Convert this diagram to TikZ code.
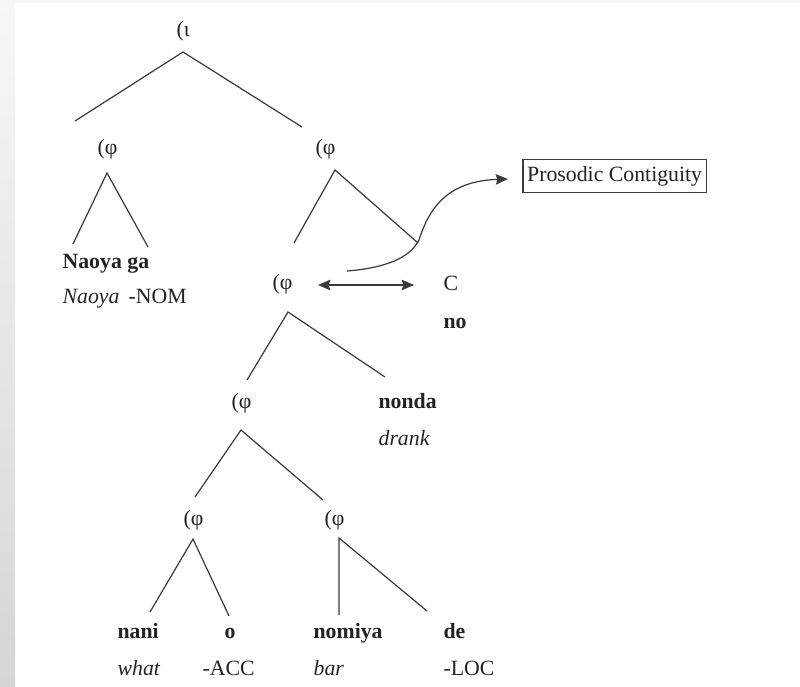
\documentclass[tikz,border=0pt]{standalone}
\usepackage{fontspec}
\setmainfont{Liberation Serif}
\usetikzlibrary{arrows.meta}
\usepackage{xcolor}
\definecolor{ink_gray}{RGB}{35,35,35}
\definecolor{line_gray}{RGB}{60,60,60}
\definecolor{page_light}{RGB}{247,247,247}
\definecolor{page_dark}{RGB}{214,214,214}

\begin{document}
\begin{tikzpicture}[x=0.02cm,y=-0.02cm,>={Stealth[length=7pt,width=6pt,inset=1pt]},line width=0.7pt,
                    every node/.style={inner sep=0pt,text=ink_gray,font=\fontsize{12.4}{15}\selectfont}]
    \tikzstyle{phi}=[anchor=base west]
    \tikzstyle{word}=[anchor=base west,font=\fontsize{12.4}{15}\selectfont\bfseries]
    \tikzstyle{gloss}=[anchor=base west,font=\fontsize{12.4}{15}\selectfont\itshape]
    \tikzstyle{branch}=[draw=line_gray]

    \useasboundingbox (0,0) rectangle (800,686);
    \fill[page_light] (0,0) rectangle (800,3);
    \shade[top color=page_light,bottom color=page_dark] (0,3) rectangle (15,686);

    % prosodic labels
    \node[phi] (iota)   at (176,37)  {(ι};
    \node[phi] (phi_L)  at (97,154)  {(φ};
    \node[phi] (phi_R)  at (315,154) {(φ};
    \node[phi] (phi_M)  at (272,289) {(φ};
    \node[phi] (phi_V)  at (231,408) {(φ};
    \node[phi] (phi_O)  at (183,525) {(φ};
    \node[phi] (phi_P)  at (324,525) {(φ};
    \node[phi] (comp)   at (443,290) {C};

    % words and glosses
    \node[word]  (naoya)  at (62,268)  {Naoya ga};
    \node[gloss] (naoya_g) at (62,303) {Naoya};
    \node[phi]   (nom)    at (128,303) {-NOM};
    \node[word]  (no)     at (443,328) {no};
    \node[word]  (nonda)  at (378,408) {nonda};
    \node[gloss] (drank)  at (378,445) {drank};
    \node[word]  (nani)   at (117,638) {nani};
    \node[gloss] (what)   at (117,675) {what};
    \node[word]  (o)      at (224,638) {o};
    \node[phi]   (acc)    at (202,675) {-ACC};
    \node[word]  (nomiya) at (313,638) {nomiya};
    \node[gloss] (bar)    at (313,675) {bar};
    \node[word]  (de)     at (443,638) {de};
    \node[phi]   (loc)    at (443,675) {-LOC};

    \node[draw=line_gray,line width=0.9pt,minimum height=0.66cm,inner xsep=2.5pt,anchor=west]
        (contig) at (522,176) {Prosodic Contiguity};

    % branch points
    \coordinate (iota_t) at (183,52);
    \coordinate (iota_l) at (75,121);
    \coordinate (iota_r) at (302,127);
    \coordinate (phiL_t) at (107,173);
    \coordinate (phiL_l) at (73,244);
    \coordinate (phiL_r) at (148,247);
    \coordinate (phiR_t) at (335,170);
    \coordinate (phiR_l) at (294,243);
    \coordinate (phiR_r) at (418,243);
    \coordinate (phiM_t) at (288,312);
    \coordinate (phiM_l) at (247,380);
    \coordinate (phiM_r) at (385,377);
    \coordinate (phiV_t) at (241,430);
    \coordinate (phiV_l) at (195,497);
    \coordinate (phiV_r) at (323,500);
    \coordinate (phiO_t) at (193,539);
    \coordinate (phiO_l) at (150,612);
    \coordinate (phiO_r) at (229,616);
    \coordinate (phiP_t) at (339,538);
    \coordinate (phiP_l) at (339,615);
    \coordinate (phiP_r) at (427,611);
    \coordinate (curve_s) at (347,271);
    \coordinate (curve_e) at (508,179);
    \coordinate (dbl_l) at (318,285);
    \coordinate (dbl_r) at (414,285);

    \draw[branch] (iota_l) -- (iota_t) -- (iota_r);
    \draw[branch] (phiL_l) -- (phiL_t) -- (phiL_r);
    \draw[branch] (phiR_l) -- (phiR_t) -- (phiR_r);
    \draw[branch] (phiM_l) -- (phiM_t) -- (phiM_r);
    \draw[branch] (phiV_l) -- (phiV_t) -- (phiV_r);
    \draw[branch] (phiO_l) -- (phiO_t) -- (phiO_r);
    \draw[branch] (phiP_l) -- (phiP_t) -- (phiP_r);

    \draw[branch,<->] (dbl_l) -- (dbl_r);
    \draw[branch,->] (curve_s) .. controls (385,268) and (410,258) .. (419,240)
        .. controls (430,205) and (450,181) .. (curve_e);
\end{tikzpicture}
\end{document}
